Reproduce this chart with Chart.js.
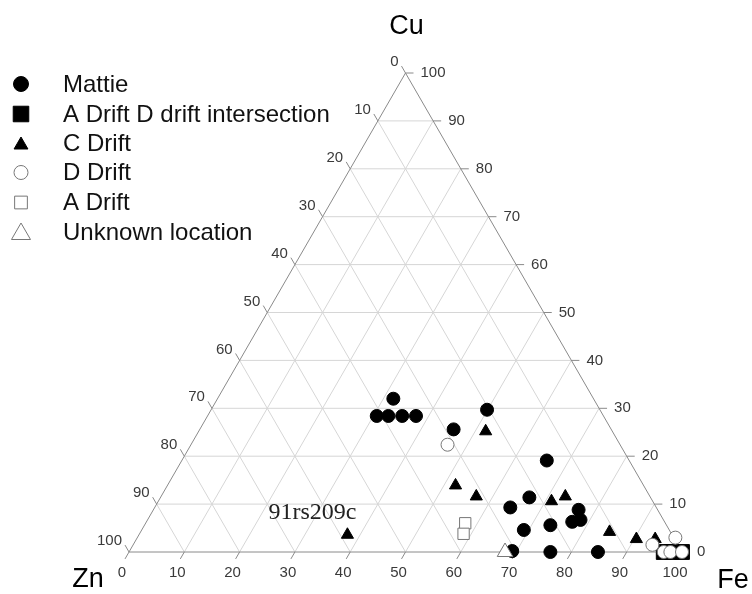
<!DOCTYPE html>
<html><head><meta charset="utf-8">
<script src="https://cdn.jsdelivr.net/npm/chart.js@4.4.0/dist/chart.umd.min.js"></script>
<style>html,body{margin:0;padding:0;background:#fff;}canvas{display:block}</style>
</head><body>
<canvas id="c" width="752" height="594"></canvas>
<script>
// Ternary axes: Cu (top), Zn (bottom-left), Fe (bottom-right); values in %
const tickValues = [0, 10, 20, 30, 40, 50, 60, 70, 80, 90, 100];
const tickLabels = ['0', '10', '20', '30', '40', '50', '60', '70', '80', '90', '100'];
const axisNames = ['Cu', 'Zn', 'Fe'];
const seriesNames = ['Mattie', 'A Drift D drift intersection', 'C Drift', 'D Drift', 'A Drift', 'Unknown location'];

const mattieCu = [32.0, 28.4, 28.4, 28.4, 28.4, 25.6, 29.7, 19.1, 11.4, 9.3, 5.6, 4.6, 8.8, 6.3, 6.7, 0.0, 0.0, 0.2];
const mattieFe = [31.8, 30.6, 32.7, 35.2, 37.7, 45.9, 49.9, 66.0, 66.7, 64.3, 73.4, 69.1, 76.9, 77.0, 78.3, 76.2, 84.8, 69.2];

const interCu = [0.0, 0.0, 0.0];
const interFe = [96.7, 98.2, 100.0];

const cDriftCu = [25.2, 13.9, 11.6, 10.6, 11.6, 3.6, 4.2, 2.7, 2.7];
const cDriftFe = [51.9, 52.1, 57.0, 71.1, 73.1, 37.7, 84.8, 90.4, 93.8];

const dDriftCu = [22.4, 3.0, 1.5, 0.0, 0.0, 0.0];
const dDriftFe = [46.4, 97.3, 93.9, 96.7, 97.9, 100.0];

const aDriftCu = [6.0, 3.8];
const aDriftFe = [57.8, 58.6];

const unknownCu = [0.0];
const unknownFe = [68.0];

const annotationText = '91rs209c';

const H = Math.sqrt(3) / 2;
function tern(cu, fe) { return cu.map((c, i) => ({ x: fe[i] + c / 2, y: c * H })); }

const styles = [
  { pointStyle: 'circle', radius: 6.5, bg: '#000', border: '#000', bw: 1, order: 6 },
  { pointStyle: 'rect', radius: 10.5, bg: '#000', border: '#000', bw: 1, order: 5 },
  { pointStyle: 'triangle', radius: 7, bg: '#000', border: '#000', bw: 1, order: 4 },
  { pointStyle: 'circle', radius: 6.5, bg: '#fff', border: '#777', bw: 1, order: 3 },
  { pointStyle: 'rect', radius: 8, bg: '#fff', border: '#777', bw: 1, order: 2 },
  { pointStyle: 'triangle', radius: 9, bg: '#fff', border: '#777', bw: 1, order: 1 }
];
const dataSets = [
  tern(mattieCu, mattieFe), tern(interCu, interFe), tern(cDriftCu, cDriftFe),
  tern(dDriftCu, dDriftFe), tern(aDriftCu, aDriftFe), tern(unknownCu, unknownFe)
];

const ternaryPlugin = {
  id: 'ternary',
  beforeDatasetsDraw(chart) {
    const { ctx } = chart;
    const sx = chart.scales.x, sy = chart.scales.y;
    const P = (cu, fe) => [sx.getPixelForValue(fe + cu / 2), sy.getPixelForValue(cu * H)];
    const line = (a, b) => { ctx.beginPath(); ctx.moveTo(a[0], a[1]); ctx.lineTo(b[0], b[1]); ctx.stroke(); };
    ctx.save();
    ctx.lineWidth = 1;
    ctx.strokeStyle = '#d6d6d6';
    tickValues.forEach(v => {
      if (v === 0 || v === 100) return;
      line(P(v, 0), P(v, 100 - v));          // constant Cu
      line(P(0, v), P(100 - v, v));          // constant Fe
      line(P(0, 100 - v), P(100 - v, 0));    // constant Zn
    });
    // border: Zn vertex, Cu vertex, Fe vertex
    ctx.strokeStyle = '#8a8a8a';
    const ZN = P(0, 0), CU = P(100, 0), FE = P(0, 100);
    ctx.beginPath(); ctx.moveTo(ZN[0], ZN[1]); ctx.lineTo(CU[0], CU[1]); ctx.lineTo(FE[0], FE[1]); ctx.closePath(); ctx.stroke();
    // ticks + labels
    ctx.fillStyle = '#3a3a3a';
    ctx.font = '15px "Liberation Sans", Arial, sans-serif';
    const tl = 8, c60 = 0.5 * tl, s60 = H * tl;
    tickValues.forEach((v, i) => {
      // Fe axis (bottom)
      let p = P(0, v);
      line(p, [p[0] - c60, p[1] + s60]);
      ctx.textAlign = 'center'; ctx.textBaseline = 'middle';
      ctx.fillText(tickLabels[i], p[0] - 7, p[1] + 21);
      // Cu axis (right)
      p = P(v, 100 - v);
      line(p, [p[0] + tl, p[1]]);
      ctx.textAlign = 'left';
      ctx.fillText(tickLabels[i], p[0] + 15, p[1]);
      // Zn axis (left)
      p = P(100 - v, 0);
      line(p, [p[0] - c60, p[1] - s60]);
      ctx.textAlign = 'right';
      ctx.fillText(tickLabels[i], p[0] - 7, p[1] - 11);
    });
    // axis titles
    ctx.fillStyle = '#000';
    ctx.font = '27px "Liberation Sans", Arial, sans-serif';
    ctx.textAlign = 'center'; ctx.textBaseline = 'middle';
    ctx.fillText(axisNames[0], CU[0] + 1, CU[1] - 46);
    ctx.fillText(axisNames[1], ZN[0] - 41, ZN[1] + 28);
    ctx.fillText(axisNames[2], FE[0] + 51, FE[1] + 29);
    ctx.restore();
  },
  afterDraw(chart) {
    const { ctx } = chart;
    ctx.save();
    // annotation near the C Drift point at Fe ~37.7
    const meta = chart.getDatasetMeta(2);
    const el = meta.data[5];
    ctx.fillStyle = '#222';
    ctx.font = '24px "Liberation Serif", "Times New Roman", serif';
    ctx.textAlign = 'right'; ctx.textBaseline = 'alphabetic';
    ctx.fillText(annotationText, el.x + 9, el.y - 16);
    // legend
    const ys = [84, 114, 143, 172.5, 202.5, 232];
    const legR = [7.5, 11, 8, 7, 9, 11];
    seriesNames.forEach((name, i) => {
      const s = styles[i];
      ctx.fillStyle = s.bg; ctx.strokeStyle = s.border; ctx.lineWidth = s.bw;
      Chart.helpers.drawPoint(ctx, { pointStyle: s.pointStyle, radius: legR[i], rotation: 0, borderWidth: s.bw }, 21, ys[i] + (s.pointStyle === 'triangle' ? 2 : 0));
      ctx.fillStyle = '#111';
      ctx.font = '24px "Liberation Sans", Arial, sans-serif';
      ctx.textAlign = 'left'; ctx.textBaseline = 'middle';
      ctx.fillText(name, 63, ys[i] + 1);
    });
    ctx.restore();
  }
};

new Chart(document.getElementById('c'), {
  type: 'scatter',
  data: {
    datasets: dataSets.map((d, i) => ({
      label: seriesNames[i],
      data: d,
      pointStyle: styles[i].pointStyle,
      pointRadius: styles[i].radius,
      pointHoverRadius: styles[i].radius,
      backgroundColor: styles[i].bg,
      borderColor: styles[i].border,
      borderWidth: styles[i].bw,
      order: styles[i].order,
      clip: false
    }))
  },
  options: {
    responsive: false,
    animation: false,
    devicePixelRatio: 1,
    layout: { padding: { left: 129, right: 70, top: 73, bottom: 42 } },
    scales: {
      x: { type: 'linear', min: 0, max: 100, display: false },
      y: { type: 'linear', min: 0, max: 100 * H, display: false }
    },
    plugins: { legend: { display: false }, tooltip: { enabled: false } }
  },
  plugins: [ternaryPlugin]
});
</script>
</body></html>
